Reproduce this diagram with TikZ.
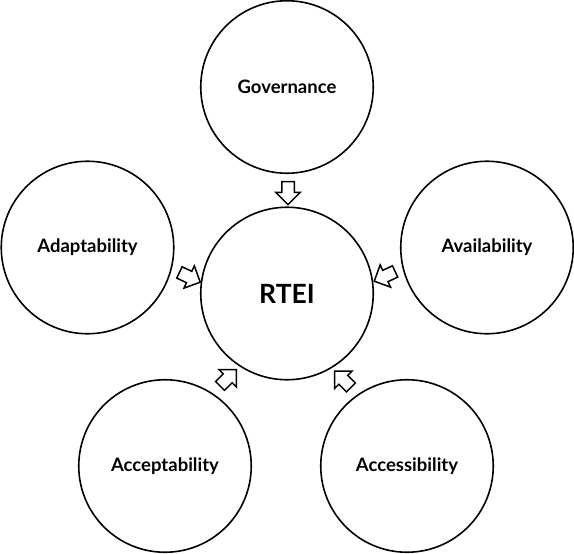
\documentclass[tikz,border=0pt]{standalone}
\usepackage{fontspec}
\setmainfont{Lato}
\usetikzlibrary{shapes.arrows}
\begin{document}
\begin{tikzpicture}[x=1pt,y=1pt,
  topic/.style={circle, draw=black, line width=1.6pt, minimum size=172.5pt, inner sep=0pt,
    font=\bfseries\fontsize{18.5}{22}\selectfont},
  blockarrow/.style={single arrow, draw=black, fill=white, line width=1.5pt,
    minimum height=23pt, inner xsep=0pt, inner ysep=5.5pt, text height=0pt, text depth=0pt,
    single arrow head extend=6pt, single arrow tip angle=90}]
\useasboundingbox (0,0) rectangle (574,-554);
\node[topic] (gov) at (287,-87) {Governance};
\node[topic, font=\bfseries\fontsize{26.5}{32}\selectfont] (rtei) at (287,-293.5) {RTEI};
\node[topic] (adapt) at (87.5,-247.5) {Adaptability};
\node[topic] (avail) at (487,-247.5) {Availability};
\node[topic] (accept) at (165,-466) {Acceptability};
\node[topic] (access) at (407,-466) {Accessibility};
\node[blockarrow, rotate=-90] (a1) at (288,-190) {};
\node[blockarrow, rotate=-25] (a2) at (187,-276) {};
\node[blockarrow, rotate=205] (a3) at (387.5,-275) {};
\node[blockarrow, rotate=45] (a4) at (226,-380) {};
\node[blockarrow, rotate=135] (a5) at (345,-381.5) {};
\end{tikzpicture}
\end{document}
